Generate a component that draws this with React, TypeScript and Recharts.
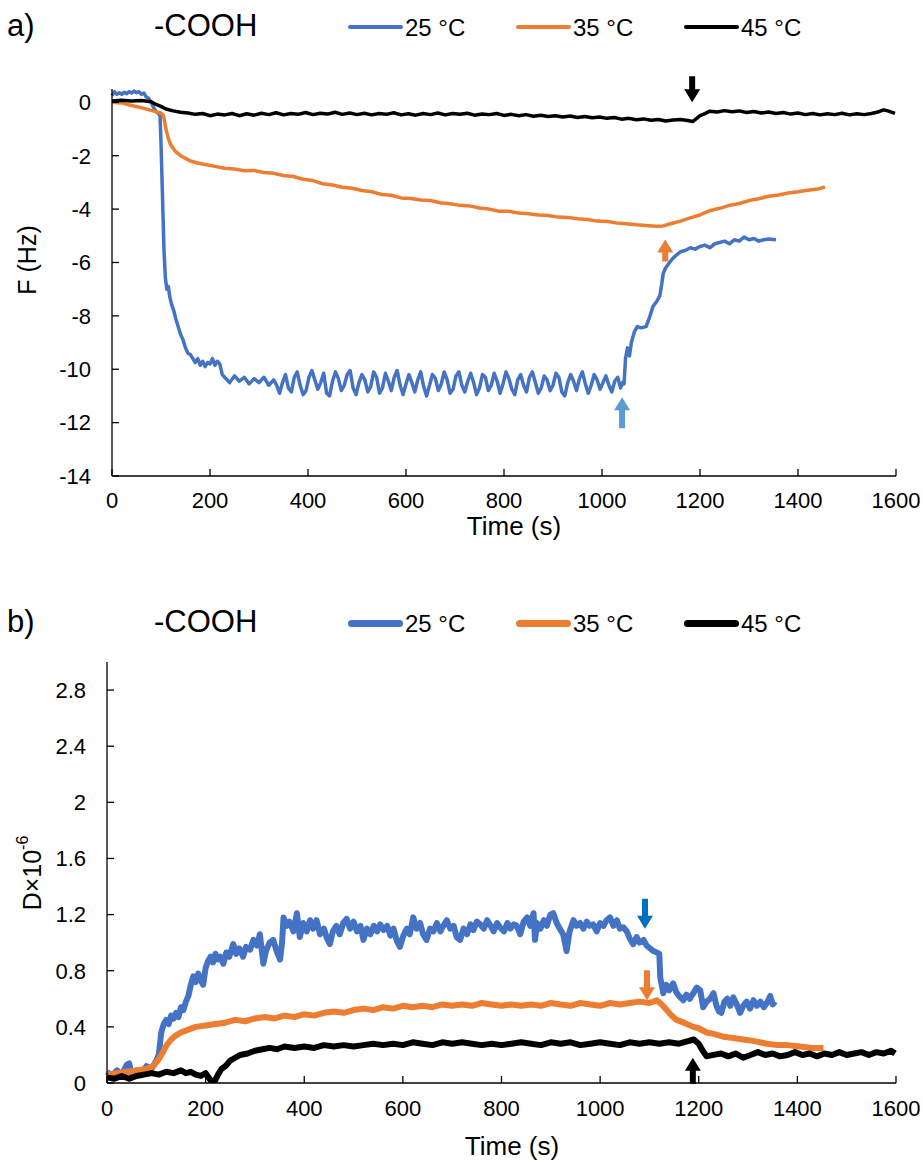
import React from 'react';
import { LineChart, Line, XAxis, YAxis, ReferenceDot } from 'recharts';

const FONT = '"Liberation Sans", Arial, sans-serif';
const BLUE = '#4472C4';
const ORANGE = '#ED7D31';
const BLACK = '#000000';

const seriesNames = ['25 °C', '35 °C', '45 °C'];
const seriesColors = [BLUE, ORANGE, BLACK];

const timeTicks = [0, 200, 400, 600, 800, 1000, 1200, 1400, 1600];
const fTicks = [-14, -12, -10, -8, -6, -4, -2, 0];
const dTicks = [0, 0.4, 0.8, 1.2, 1.6, 2, 2.4, 2.8];

// a) frequency shift F (Hz) vs time (s)
const f25: [number, number][] = [
  [0, 0.25], [5, 0.4], [10, 0.3], [15, 0.36], [20, 0.3], [25, 0.38], [30, 0.32], [35, 0.4], [40, 0.35],
  [45, 0.42], [50, 0.36], [55, 0.4], [60, 0.3], [65, 0.35], [70, 0.2], [75, 0.15], [80, 0.0], [85, -0.2],
  [90, -0.35], [95, -0.42], [98, -0.5], [100, -1.5], [103, -3.5], [106, -5.5], [109, -6.6], [112, -7.0],
  [115, -6.9], [118, -7.3], [122, -7.6], [126, -7.8], [130, -8.1], [135, -8.4], [140, -8.7], [145, -8.9],
  [150, -9.2], [155, -9.4], [160, -9.45], [165, -9.6], [170, -9.75], [175, -9.6], [180, -9.85], [185, -9.7],
  [190, -9.9], [195, -9.75], [200, -9.8], [205, -9.6], [210, -9.85], [215, -9.7], [220, -9.8], [225, -10.2],
  [230, -10.3], [240, -10.5], [250, -10.25], [260, -10.45], [270, -10.3], [280, -10.55], [290, -10.35],
  [300, -10.5], [310, -10.3], [320, -10.6], [330, -10.4], [336, -10.6], [342, -10.9], [348, -10.5],
  [354, -10.2], [360, -10.7], [366, -10.85], [372, -10.3], [378, -10.1], [384, -10.6], [390, -10.95],
  [396, -10.8], [402, -10.3], [408, -10.05], [414, -10.4], [420, -10.75], [426, -10.5], [432, -10.15],
  [438, -10.9], [444, -11.0], [450, -10.45], [456, -10.1], [462, -10.35], [468, -10.8], [474, -10.6],
  [480, -10.2], [486, -10.05], [492, -10.7], [498, -10.95], [504, -10.5], [510, -10.2], [516, -10.4],
  [522, -10.85], [528, -10.65], [534, -10.1], [540, -10.3], [546, -10.9], [552, -10.7], [558, -10.15],
  [564, -10.45], [570, -10.8], [576, -10.3], [582, -10.05], [588, -10.6], [594, -10.95], [600, -10.55],
  [606, -10.2], [612, -10.5], [618, -10.85], [624, -10.4], [630, -10.1], [636, -10.65], [642, -11.0],
  [648, -10.6], [654, -10.2], [660, -10.35], [666, -10.8], [672, -10.55], [678, -10.1], [684, -10.4],
  [690, -10.9], [696, -10.75], [702, -10.25], [708, -10.1], [714, -10.6], [720, -10.85], [726, -10.45],
  [732, -10.15], [738, -10.5], [744, -10.95], [750, -10.7], [756, -10.2], [762, -10.3], [768, -10.8],
  [774, -10.6], [780, -10.15], [786, -10.45], [792, -10.9], [798, -10.55], [804, -10.1], [810, -10.35],
  [816, -10.75], [822, -10.95], [828, -10.4], [834, -10.2], [840, -10.6], [846, -10.85], [852, -10.3],
  [858, -10.1], [864, -10.5], [870, -10.9], [876, -10.7], [882, -10.25], [888, -10.4], [894, -10.8],
  [900, -10.6], [906, -10.15], [912, -10.3], [918, -10.85], [924, -11.0], [930, -10.5], [936, -10.2],
  [942, -10.45], [948, -10.8], [954, -10.35], [960, -10.1], [966, -10.55], [972, -10.9], [978, -10.6],
  [984, -10.2], [990, -10.4], [996, -10.75], [1002, -10.5], [1008, -10.25], [1014, -10.6], [1020, -10.85],
  [1026, -10.45], [1032, -10.3], [1038, -10.7], [1042, -10.5], [1045, -10.55],
  [1048, -9.6], [1052, -9.2], [1056, -9.5], [1060, -9.0], [1066, -8.6], [1072, -8.4], [1080, -8.45],
  [1090, -8.4], [1098, -8.0], [1104, -7.65], [1112, -7.45], [1118, -7.25], [1122, -6.8], [1125, -6.4],
  [1130, -6.2], [1136, -6.05], [1142, -5.9], [1150, -5.75], [1160, -5.6], [1170, -5.55], [1180, -5.45],
  [1190, -5.5], [1200, -5.4], [1210, -5.35], [1220, -5.45], [1230, -5.3], [1240, -5.25], [1250, -5.2],
  [1260, -5.3], [1270, -5.15], [1280, -5.2], [1290, -5.05], [1300, -5.15], [1310, -5.1], [1320, -5.2],
  [1330, -5.15], [1340, -5.12], [1355, -5.15],
];

const f35: [number, number][] = [
  [0, 0.0], [20, -0.02], [40, -0.12], [60, -0.2], [80, -0.3], [95, -0.38], [100, -0.4], [105, -0.5],
  [110, -1.0], [115, -1.35], [120, -1.6], [130, -1.85], [140, -2.0], [150, -2.1], [160, -2.2], [175, -2.27],
  [190, -2.33], [210, -2.4], [230, -2.47], [250, -2.5], [270, -2.56], [290, -2.55], [310, -2.63],
  [330, -2.66], [350, -2.74], [370, -2.78], [390, -2.88], [410, -2.93], [430, -3.05], [450, -3.1],
  [470, -3.18], [490, -3.22], [510, -3.3], [530, -3.35], [550, -3.45], [570, -3.48], [590, -3.58],
  [610, -3.6], [630, -3.66], [650, -3.68], [670, -3.76], [690, -3.8], [710, -3.86], [730, -3.88],
  [750, -3.96], [770, -4.0], [790, -4.08], [810, -4.08], [830, -4.15], [850, -4.17], [870, -4.22],
  [890, -4.24], [910, -4.3], [930, -4.31], [950, -4.36], [970, -4.39], [990, -4.45], [1010, -4.46],
  [1030, -4.52], [1050, -4.55], [1070, -4.59], [1090, -4.61], [1110, -4.64], [1125, -4.63], [1140, -4.55],
  [1160, -4.45], [1180, -4.33], [1200, -4.22], [1220, -4.06], [1240, -3.97], [1260, -3.86], [1280, -3.79],
  [1300, -3.68], [1320, -3.61], [1340, -3.52], [1360, -3.47], [1380, -3.4], [1400, -3.35], [1420, -3.29],
  [1440, -3.25], [1455, -3.17],
];

const f45: [number, number][] = [
  [0, 0.05], [20, 0.08], [40, 0.05], [60, 0.07], [80, 0.02], [90, -0.08], [100, -0.15], [110, -0.25],
  [125, -0.32], [140, -0.37], [155, -0.4], [170, -0.45], [185, -0.42], [200, -0.5], [215, -0.44],
  [230, -0.47], [245, -0.42], [260, -0.5], [275, -0.43], [290, -0.48], [305, -0.41], [320, -0.46],
  [335, -0.39], [350, -0.47], [365, -0.42], [380, -0.45], [395, -0.38], [410, -0.46], [425, -0.41],
  [440, -0.44], [455, -0.37], [470, -0.45], [485, -0.4], [500, -0.46], [515, -0.41], [530, -0.47],
  [545, -0.42], [560, -0.45], [575, -0.39], [590, -0.47], [605, -0.43], [620, -0.48], [635, -0.42],
  [650, -0.46], [665, -0.4], [680, -0.47], [695, -0.42], [710, -0.45], [725, -0.41], [740, -0.48],
  [755, -0.44], [770, -0.46], [785, -0.42], [800, -0.49], [815, -0.45], [830, -0.5], [845, -0.46],
  [860, -0.52], [875, -0.48], [890, -0.53], [905, -0.5], [920, -0.55], [935, -0.51], [950, -0.57],
  [965, -0.53], [980, -0.58], [995, -0.55], [1010, -0.6], [1025, -0.57], [1040, -0.63], [1055, -0.6],
  [1070, -0.65], [1085, -0.62], [1100, -0.67], [1115, -0.64], [1130, -0.7], [1145, -0.66], [1160, -0.64],
  [1175, -0.68], [1185, -0.72], [1192, -0.62], [1200, -0.5], [1210, -0.42], [1220, -0.33], [1235, -0.36],
  [1250, -0.31], [1265, -0.35], [1280, -0.32], [1295, -0.38], [1310, -0.34], [1325, -0.4], [1340, -0.36],
  [1355, -0.42], [1370, -0.38], [1385, -0.44], [1400, -0.4], [1415, -0.46], [1430, -0.42], [1445, -0.47],
  [1460, -0.43], [1475, -0.46], [1490, -0.41], [1505, -0.47], [1520, -0.43], [1535, -0.46], [1550, -0.42],
  [1565, -0.35], [1575, -0.28], [1585, -0.33], [1598, -0.41],
];

// b) dissipation D×10^-6 vs time (s)
const d25: [number, number][] = [
  [0, 0.08], [10, 0.05], [20, 0.09], [30, 0.06], [40, 0.13], [45, 0.14], [50, 0.06], [60, 0.09], [70, 0.07],
  [80, 0.12], [90, 0.1], [100, 0.16], [105, 0.2], [110, 0.36], [115, 0.42], [120, 0.45], [125, 0.42],
  [130, 0.48], [135, 0.46], [140, 0.5], [145, 0.47], [150, 0.54], [155, 0.52], [160, 0.58], [165, 0.62],
  [170, 0.7], [175, 0.76], [180, 0.72], [185, 0.78], [190, 0.73], [195, 0.7], [200, 0.82], [205, 0.87],
  [210, 0.9], [215, 0.86], [220, 0.92], [225, 0.88], [230, 0.9], [236, 0.85], [242, 0.93], [248, 0.9],
  [256, 0.99], [262, 0.92], [268, 0.96], [276, 0.9], [282, 0.97], [290, 0.95], [297, 1.02], [304, 0.98],
  [310, 1.06], [317, 0.85], [323, 0.95], [330, 1.0], [337, 1.02], [344, 0.94], [351, 0.88], [355, 1.0],
  [358, 1.18], [364, 1.12], [370, 1.15], [378, 1.08], [385, 1.21], [391, 1.04], [398, 1.14], [405, 1.08],
  [412, 1.16], [418, 1.1], [425, 1.16], [432, 1.06], [440, 1.1], [446, 1.03], [452, 0.99], [458, 1.08],
  [465, 1.12], [472, 1.06], [479, 1.14], [486, 1.17], [493, 1.1], [500, 1.15], [507, 1.08], [514, 1.12],
  [520, 1.02], [527, 1.1], [534, 1.06], [541, 1.12], [548, 1.08], [554, 1.13], [561, 1.09], [568, 1.12],
  [575, 1.05], [581, 1.1], [588, 1.01], [594, 0.97], [601, 1.05], [608, 1.1], [614, 1.06], [621, 1.18],
  [628, 1.1], [635, 1.14], [641, 1.06], [648, 1.02], [655, 1.1], [662, 1.08], [669, 1.14], [676, 1.08],
  [682, 1.12], [689, 1.16], [696, 1.1], [703, 1.12], [709, 1.04], [716, 1.02], [723, 1.1], [730, 1.06],
  [737, 1.13], [743, 1.09], [750, 1.15], [757, 1.13], [764, 1.1], [771, 1.16], [778, 1.12], [784, 1.08],
  [791, 1.14], [797, 1.11], [805, 1.08], [812, 1.14], [818, 1.1], [825, 1.13], [831, 1.12], [838, 1.06],
  [845, 1.15], [852, 1.18], [858, 1.12], [865, 1.21], [868, 1.02], [872, 1.14], [879, 1.1], [886, 1.16],
  [892, 1.12], [899, 1.2], [905, 1.21], [912, 1.14], [918, 1.1], [925, 1.06], [932, 0.94], [938, 1.08],
  [946, 1.16], [952, 1.12], [959, 1.14], [966, 1.1], [973, 1.15], [979, 1.12], [986, 1.13], [993, 1.08],
  [1000, 1.14], [1007, 1.12], [1013, 1.16], [1020, 1.18], [1027, 1.12], [1034, 1.16], [1040, 1.1],
  [1047, 1.11], [1054, 1.08], [1060, 1.03], [1067, 0.99], [1074, 1.04], [1080, 1.0], [1088, 1.02],
  [1094, 0.98], [1101, 0.96], [1108, 0.94], [1115, 0.93], [1120, 0.92], [1122, 0.75], [1126, 0.68],
  [1128, 0.64], [1134, 0.7], [1140, 0.66], [1148, 0.71], [1154, 0.65], [1160, 0.62], [1169, 0.59],
  [1175, 0.63], [1182, 0.6], [1189, 0.64], [1196, 0.68], [1203, 0.66], [1209, 0.54], [1216, 0.58],
  [1223, 0.6], [1230, 0.64], [1236, 0.55], [1241, 0.51], [1246, 0.5], [1252, 0.58], [1258, 0.6],
  [1264, 0.55], [1270, 0.61], [1277, 0.56], [1284, 0.5], [1290, 0.55], [1297, 0.58], [1304, 0.53],
  [1311, 0.59], [1318, 0.55], [1325, 0.58], [1332, 0.54], [1338, 0.57], [1345, 0.62], [1350, 0.56],
  [1355, 0.58],
];

const d35: [number, number][] = [
  [0, 0.06], [20, 0.07], [40, 0.08], [60, 0.09], [80, 0.1], [94, 0.12], [105, 0.17], [115, 0.23],
  [121, 0.27], [130, 0.31], [140, 0.34], [150, 0.36], [165, 0.38], [180, 0.4], [200, 0.41], [220, 0.42],
  [240, 0.43], [260, 0.45], [280, 0.44], [300, 0.46], [320, 0.47], [340, 0.46], [360, 0.48], [380, 0.47],
  [400, 0.49], [420, 0.48], [440, 0.5], [460, 0.51], [480, 0.5], [500, 0.52], [520, 0.53], [540, 0.52],
  [560, 0.54], [580, 0.53], [600, 0.55], [620, 0.54], [640, 0.55], [660, 0.54], [680, 0.56], [700, 0.55],
  [720, 0.56], [740, 0.55], [760, 0.57], [780, 0.56], [800, 0.55], [820, 0.56], [840, 0.55], [860, 0.56],
  [880, 0.55], [900, 0.57], [920, 0.56], [940, 0.55], [960, 0.57], [980, 0.56], [1000, 0.55], [1020, 0.57],
  [1040, 0.56], [1060, 0.57], [1080, 0.58], [1100, 0.57], [1115, 0.59], [1125, 0.56], [1135, 0.52],
  [1145, 0.48], [1155, 0.45], [1170, 0.43], [1189, 0.4], [1200, 0.39], [1216, 0.36], [1230, 0.35],
  [1250, 0.33], [1270, 0.32], [1290, 0.31], [1310, 0.3], [1338, 0.28], [1360, 0.27], [1380, 0.27],
  [1405, 0.26], [1430, 0.25], [1453, 0.25],
];

const d45: [number, number][] = [
  [0, 0.04], [15, 0.03], [30, 0.05], [45, 0.03], [60, 0.05], [75, 0.06], [90, 0.07], [105, 0.06],
  [120, 0.08], [135, 0.07], [150, 0.09], [160, 0.07], [170, 0.08], [180, 0.06], [190, 0.05], [200, 0.07],
  [210, 0.02], [218, 0.01], [225, 0.06], [232, 0.1], [240, 0.12], [250, 0.16], [260, 0.18], [270, 0.2],
  [285, 0.21], [300, 0.23], [315, 0.24], [330, 0.25], [345, 0.24], [360, 0.26], [380, 0.25], [400, 0.26],
  [420, 0.25], [440, 0.27], [460, 0.26], [480, 0.27], [500, 0.26], [520, 0.27], [540, 0.28], [560, 0.27],
  [580, 0.28], [600, 0.27], [620, 0.29], [640, 0.28], [660, 0.27], [680, 0.29], [700, 0.28], [720, 0.29],
  [740, 0.28], [760, 0.27], [780, 0.28], [800, 0.27], [820, 0.28], [840, 0.29], [860, 0.28], [880, 0.27],
  [900, 0.29], [920, 0.28], [940, 0.29], [960, 0.27], [980, 0.28], [1000, 0.29], [1020, 0.28], [1040, 0.27],
  [1060, 0.29], [1080, 0.28], [1100, 0.29], [1120, 0.28], [1140, 0.29], [1160, 0.28], [1180, 0.3],
  [1190, 0.31], [1200, 0.28], [1208, 0.23], [1216, 0.19], [1230, 0.2], [1245, 0.21], [1260, 0.19],
  [1275, 0.21], [1290, 0.18], [1305, 0.2], [1320, 0.22], [1335, 0.2], [1350, 0.21], [1365, 0.19],
  [1380, 0.2], [1395, 0.22], [1410, 0.2], [1425, 0.21], [1440, 0.19], [1455, 0.21], [1470, 0.2],
  [1485, 0.22], [1500, 0.2], [1515, 0.21], [1530, 0.22], [1545, 0.2], [1560, 0.22], [1575, 0.21],
  [1590, 0.23], [1598, 0.21],
];

// arrow annotations: tip position in data units
type Arrow = { t: number; v: number; dir: 'up' | 'down'; color: string; len: number };
const fArrows: Arrow[] = [
  { t: 1184, v: 0.0, dir: 'down', color: '#000000', len: 26 },
  { t: 1129, v: -5.14, dir: 'up', color: ORANGE, len: 22 },
  { t: 1041, v: -11.05, dir: 'up', color: '#5B9BD5', len: 31 },
];
const dArrows: Arrow[] = [
  { t: 1091, v: 1.1, dir: 'down', color: '#0070C0', len: 30 },
  { t: 1095, v: 0.59, dir: 'down', color: ORANGE, len: 30 },
  { t: 1188, v: 0.18, dir: 'up', color: '#000000', len: 26 },
];

const toPts = (arr: [number, number][]) => arr.map(([t, v]) => ({ t, v }));

const arrowShape = (a: Arrow) => (p: any) => {
  const { cx, cy } = p;
  const d = a.dir === 'down' ? -1 : 1;
  const hw = 8, hl = 13, sw = 3;
  const pts = [
    [cx, cy], [cx - hw, cy + d * hl], [cx - sw, cy + d * hl], [cx - sw, cy + d * a.len],
    [cx + sw, cy + d * a.len], [cx + sw, cy + d * hl], [cx + hw, cy + d * hl],
  ];
  return <polygon points={pts.map((q) => q.join(',')).join(' ')} fill={a.color} />;
};

const tickStyle = { fill: '#000', fontSize: 22, fontFamily: FONT };
const axisStroke = { stroke: '#000', strokeWidth: 1.3 };
const fmt = (v: number) => String(Math.round(v * 10) / 10);

const Header = ({ letter, top, thick }: { letter: string; top: number; thick: number }) => (
  <div style={{ position: 'absolute', left: 0, top, width: 923, height: 44, fontFamily: FONT, lineHeight: 1.15 }}>
    <span style={{ position: 'absolute', left: 7, top: 3, fontSize: 31 }}>{letter}</span>
    <span style={{ position: 'absolute', left: 154, top: 3, fontSize: 31 }}>-COOH</span>
    {seriesNames.map((n, i) => (
      <div key={n} style={{ position: 'absolute', left: 348 + i * 168, top: 0, height: 44 }}>
        <div style={{ position: 'absolute', left: 0, top: 22 - thick / 2, width: 55, height: thick, background: seriesColors[i], borderRadius: thick / 2 }} />
        <span style={{ position: 'absolute', left: 57, top: 9, fontSize: 24, whiteSpace: 'nowrap' }}>{n}</span>
      </div>
    ))}
  </div>
);

export default function App() {
  const fSeries = [f25, f35, f45];
  const dSeries = [d25, d35, d45];
  return (
    <div style={{ position: 'absolute', left: 0, top: 0, width: 923, height: 1163, background: '#fff', fontFamily: FONT }}>
      <div style={{ position: 'absolute', left: 0, top: 0 }}>
        <LineChart width={923} height={560} margin={{ top: 89, right: 27, left: 0, bottom: 0 }}>
          <XAxis
            type="number" dataKey="t" domain={[0, 1600]} ticks={timeTicks} interval={0} height={84}
            tickSize={-7} tickMargin={23} tick={tickStyle} axisLine={axisStroke} tickLine={axisStroke}
            label={{ content: () => <text x={514} y={535} textAnchor="middle" fontSize={26} fontFamily={FONT} fill="#000">Time (s)</text> }}
          />
          <YAxis
            type="number" dataKey="v" domain={[-14, 0.5]} ticks={fTicks} interval={0} width={112} allowDataOverflow
            tickSize={-7} tickMargin={28} tick={tickStyle} axisLine={axisStroke} tickLine={axisStroke}
            label={{ content: () => <text x={27} y={260} transform="rotate(-90 27 260)" textAnchor="middle" dominantBaseline="central" fontSize={25} fontFamily={FONT} fill="#000">F (Hz)</text> }}
          />
          {fSeries.map((s, i) => (
            <Line key={i} data={toPts(s)} dataKey="v" type="linear" stroke={seriesColors[i]} strokeWidth={3.5}
              dot={false} isAnimationActive={false} strokeLinejoin="round" />
          ))}
          {fArrows.map((a, i) => (
            <ReferenceDot key={i} x={a.t} y={a.v} r={0} ifOverflow="visible" shape={arrowShape(a)} />
          ))}
        </LineChart>
      </div>
      <div style={{ position: 'absolute', left: 0, top: 560 }}>
        <LineChart width={923} height={603} margin={{ top: 102, right: 27, left: 0, bottom: 0 }}>
          <XAxis
            type="number" dataKey="t" domain={[0, 1600]} ticks={timeTicks} interval={0} height={80}
            tickSize={-7} tickMargin={24} tick={tickStyle} axisLine={axisStroke} tickLine={axisStroke}
            label={{ content: () => <text x={512} y={595} textAnchor="middle" fontSize={26} fontFamily={FONT} fill="#000">Time (s)</text> }}
          />
          <YAxis
            type="number" dataKey="v" domain={[0, 3]} ticks={dTicks} interval={0} width={107} allowDataOverflow
            tickSize={-7} tickMargin={28} tick={tickStyle} tickFormatter={fmt} axisLine={axisStroke} tickLine={axisStroke}
            label={{ content: () => (
              <text x={32} y={313} transform="rotate(-90 32 313)" textAnchor="middle" dominantBaseline="central" fontSize={25} fontFamily={FONT} fill="#000">
                D×10<tspan dy={-10} fontSize={16}>-6</tspan>
              </text>
            ) }}
          />
          {dSeries.map((s, i) => (
            <Line key={i} data={toPts(s)} dataKey="v" type="linear" stroke={seriesColors[i]} strokeWidth={6}
              dot={false} isAnimationActive={false} strokeLinejoin="round" />
          ))}
          {dArrows.map((a, i) => (
            <ReferenceDot key={i} x={a.t} y={a.v} r={0} ifOverflow="visible" shape={arrowShape(a)} />
          ))}
        </LineChart>
      </div>
      <Header letter="a)" top={5} thick={4} />
      <Header letter="b)" top={601} thick={7} />
    </div>
  );
}
